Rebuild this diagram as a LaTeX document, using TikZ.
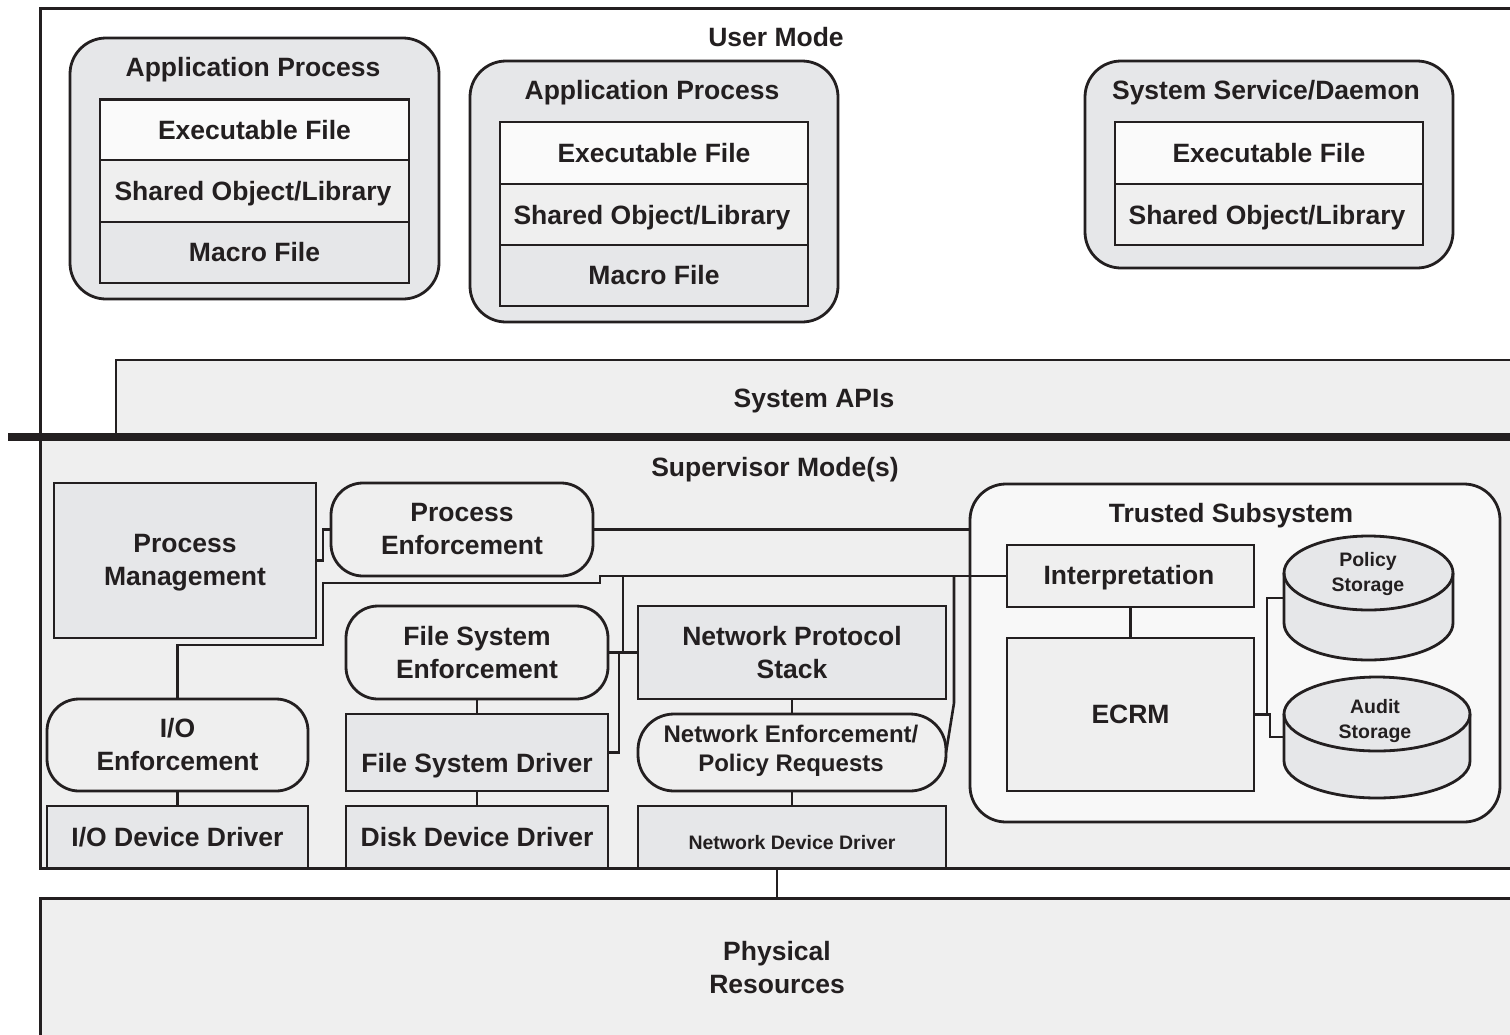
\documentclass[tikz,border=0pt]{standalone}
\usepackage{fontspec}
\setmainfont{Liberation Sans}
\definecolor{ink}{HTML}{231F20}
\definecolor{boxgray}{HTML}{E6E7E9}
\definecolor{bggray}{HTML}{EFEFEF}
\definecolor{exefill}{HTML}{FAFAFA}
\definecolor{tsfill}{HTML}{F8F8F8}
\begin{document}
\begin{tikzpicture}[x=1pt,y=-1pt,
  every node/.style={inner sep=0pt, outer sep=0pt, text=ink, align=center,
    font=\bfseries\fontsize{26.5}{33}\selectfont},
  small/.style={font=\bfseries\fontsize{19.5}{25}\selectfont},
  mid/.style={font=\bfseries\fontsize{24}{29}\selectfont},
  ln/.style={draw=ink, line width=2.8pt},
  conn/.style={draw=ink, line width=2.6pt},
  box/.style={ln, rectangle, fill=boxgray},
  lbox/.style={ln, rectangle, fill=bggray},
  rbox/.style={ln, rectangle, rounded corners=32pt, fill=bggray},
  cont/.style={ln, rectangle, rounded corners=36pt, fill=boxgray},
  exebox/.style={ln, rectangle, fill=exefill},
  shbox/.style={ln, rectangle, fill=bggray},
  macbox/.style={ln, rectangle, fill=boxgray},
]
\useasboundingbox (0,0) rectangle (1510,1034);
% ---------- regions ----------
\fill[white] (0,0) rectangle (1510,1034);
\fill[bggray] (40,437) rectangle (1516,868);
\draw[ln, line width=3pt] (1516,8) -- (40,8) -- (40,868) -- (1516,868);
\filldraw[fill=bggray, draw=ink, line width=2.8pt] (116,440) -- (116,360) -- (1516,360) -- (1516,440);
\draw[draw=ink, line width=8pt] (8,437) -- (1516,437);
\node[rectangle, fill=bggray, draw=ink, line width=3pt, minimum width=1490pt, minimum height=160pt] (physbox) at (785,978) {};
% ---------- labels of regions ----------
\node (user) at (776,37) {User Mode};
\node (apis) at (814,401) {System APIs};
\node (sup) at (775,470) {Supervisor Mode(s)};
\node (phys) at (777,967.5) {\fontsize{26.5}{32}\selectfont Physical\\Resources};
% ---------- user mode ----------
\node[cont, minimum width=369pt, minimum height=261pt] (app1) at (254.5,168.5) {};
\node (app1t) at (253,70) {Application Process};
\node[exebox, minimum width=309pt, minimum height=61pt] (exe1) at (254.5,130) {Executable File};
\node[shbox, minimum width=309pt, minimum height=62pt] (sh1) at (254.5,191) {};
\node (sh1t) at (253,194) {Shared Object/Library};
\node[macbox, minimum width=309pt, minimum height=61pt] (mac1) at (254.5,252.5) {Macro File};

\node[cont, minimum width=368pt, minimum height=261pt] (app2) at (654,191.5) {};
\node (app2t) at (652,93) {Application Process};
\node[exebox, minimum width=308pt, minimum height=62pt] (exe2) at (654,153) {Executable File};
\node[shbox, minimum width=308pt, minimum height=61pt] (sh2) at (654,214.5) {};
\node (sh2t) at (652,217.5) {Shared Object/Library};
\node[macbox, minimum width=308pt, minimum height=61pt] (mac2) at (654,275.5) {Macro File};

\node[cont, minimum width=368pt, minimum height=207pt] (svc) at (1269,164.5) {};
\node (svct) at (1266,93) {System Service/Daemon};
\node[exebox, minimum width=308pt, minimum height=62pt] (exe3) at (1269,153) {Executable File};
\node[shbox, minimum width=308pt, minimum height=61pt] (sh3) at (1269,214.5) {};
\node (sh3t) at (1267,217.5) {Shared Object/Library};
% ---------- supervisor mode ----------
\node[box, minimum width=262pt, minimum height=155pt] (pm) at (185,560.5) {};
\node (pmt) at (185,563) {Process\\Management};
\node[rbox, minimum width=262pt, minimum height=93pt] (pe) at (462,529.5) {Process\\Enforcement};
\node[rbox, minimum width=262pt, minimum height=93pt] (fse) at (477,652.5) {File System\\Enforcement};
\node[box, minimum width=262pt, minimum height=77pt, text height=40pt, text depth=0pt] (fsd) at (477,752.5) {File System Driver};
\node[box, minimum width=262pt, minimum height=62pt] (ddd) at (477,837) {Disk Device Driver};
\node[box, minimum width=308pt, minimum height=93pt] (nps) at (792,652.5) {Network Protocol\\Stack};
\node[rbox, rounded corners=36pt, minimum width=308pt, minimum height=77pt] (nep) at (792,752.5) {};
\node[mid] (nept) at (791,750.5) {Network Enforcement/\\Policy Requests};
\node[box, small, minimum width=308pt, minimum height=62pt, text height=24pt, text depth=0pt] (ndd) at (792,837) {Network Device Driver};
\node[rbox, minimum width=261pt, minimum height=92pt] (ioe) at (177.5,745) {I/O\\Enforcement};
\node[box, minimum width=261pt, minimum height=62pt] (iodd) at (177.5,837) {I/O Device Driver};
% trusted subsystem
\node[ln, rectangle, rounded corners=36pt, fill=tsfill, minimum width=530pt, minimum height=338pt] (ts) at (1235,653) {};
\node (tst) at (1231,516) {Trusted Subsystem};
\node[lbox, minimum width=247pt, minimum height=62pt] (interp) at (1130.5,576) {};
\node (interpt) at (1129,578) {Interpretation};
\node[lbox, minimum width=247pt, minimum height=153pt] (ecrm) at (1130.5,714.5) {ECRM};
% cylinders
\filldraw[fill=boxgray, draw=ink, line width=2.8pt] (1284,573) -- (1284,623)
  arc[start angle=180, end angle=360, x radius=84.5pt, y radius=37pt] -- (1453,573)
  arc[start angle=0, end angle=180, x radius=84.5pt, y radius=37pt] -- cycle;
\draw[ln] (1284,573) arc[start angle=180, end angle=360, x radius=84.5pt, y radius=37pt];
\node[small] (ps) at (1368,574) {Policy\\Storage};
\filldraw[fill=boxgray, draw=ink, line width=2.8pt] (1284,714) -- (1284,761)
  arc[start angle=180, end angle=360, x radius=93pt, y radius=37pt] -- (1470,714)
  arc[start angle=0, end angle=180, x radius=93pt, y radius=37pt] -- cycle;
\draw[ln] (1284,714) arc[start angle=180, end angle=360, x radius=93pt, y radius=37pt];
\node[small] (as) at (1375,721) {Audit\\Storage};
\coordinate (psW) at (1284,598);
\coordinate (asW) at (1284,737);
\coordinate (j1) at (1267,714.5);
\coordinate (nddlink) at (777,868);
% ---------- connectors ----------
\draw[conn] (pm.east) -- ++(7,0) |- (pe.west);
\draw[conn] (pe.east) -- (pe.east -| ts.west);
\draw[conn] (interp.west) -- (600,576) -- (600,583) -- (323,583) -- (323,645) -| (ioe.north);
\draw[conn] (623,576) -- (623,652.5);
\draw[conn] (fse.east) -- (nps.west);
\draw[conn] (619,652.5) |- (fsd.east);
\draw[conn] (954,576) -- (954,703) -- (nep.east);
\draw[conn] (fse.south) -- (fsd.north);
\draw[conn] (fsd.south) -- (ddd.north);
\draw[conn] (nps.south) -- (nep.north);
\draw[conn] (nep.south) -- (ndd.north);
\draw[conn] (ioe.south) -- (iodd.north);
\draw[conn] (interp.south) -- (ecrm.north);
\draw[conn] (nddlink) -- (nddlink |- physbox.north);
\draw[conn] (ecrm.east) -| (1270,737) -- (asW);
\draw[conn] (j1) |- (psW);
\end{tikzpicture}
\end{document}
